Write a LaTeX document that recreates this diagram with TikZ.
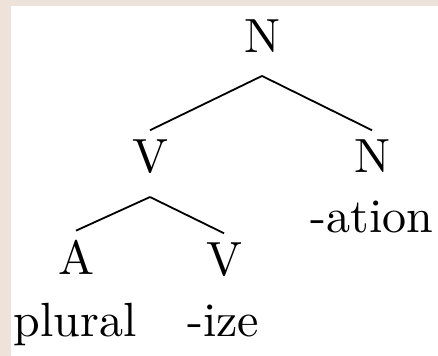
\documentclass[tikz,border=0pt]{standalone}
\usepackage{xcolor}
\definecolor{qbeige}{RGB}{237,227,219}

\begin{document}
\begin{tikzpicture}[x=0.5pt,y=-0.5pt,
  every node/.style={inner sep=0pt,anchor=base,scale=2.4},
  branch/.style={line width=0.9pt}]
\def\W{438}
\def\H{356}
\def\up{4.5pt}
\def\dn{11pt}

%Frame:
\fill[qbeige] (0,0) rectangle (\W,\H);
\fill[white] (11,6) rectangle (\W,\H);
\useasboundingbox (0,0) rectangle (\W,\H);

%Categories:
\node (N0) at (262,53) {N};
\node (V1) at (150,173) {V};
\node (N1) at (372,173) {N};
\node (A2) at (76,275) {A};
\node (V2) at (224,276) {V};

%Words:
\node (ation) at (372,233) {-ation};
\node (plural) at (75,337) {plural};
\node (ize) at (223,337) {-ize};

%Branches:
\draw[branch] ([yshift=-\dn]N0.south) -- ([yshift=\up]V1.north);
\draw[branch] ([yshift=-\dn]N0.south) -- ([yshift=\up]N1.north);
\draw[branch] ([yshift=-\dn]V1.south) -- ([yshift=\up]A2.north);
\draw[branch] ([yshift=-\dn]V1.south) -- ([yshift=\up]V2.north);

\end{tikzpicture}
\end{document}
